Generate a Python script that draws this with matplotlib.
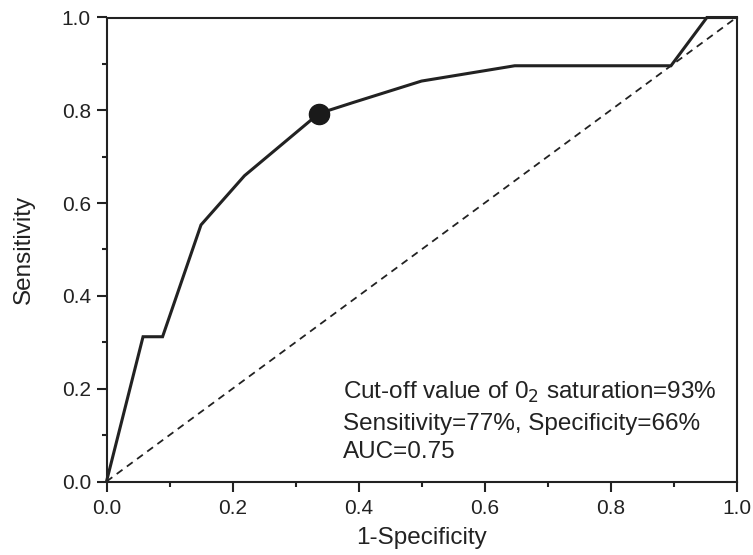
import matplotlib
matplotlib.use("Agg")
import matplotlib.pyplot as plt
from matplotlib.ticker import MultipleLocator

plt.rcParams['font.family'] = ['Liberation Sans', 'DejaVu Sans']

# ROC curve data
fpr = [0.0, 0.058, 0.089, 0.150, 0.219, 0.337, 0.392, 0.500, 0.648, 0.896, 0.953, 1.0]
tpr = [0.0, 0.312, 0.312, 0.553, 0.659, 0.793, 0.817, 0.863, 0.896, 0.896, 1.0, 1.0]
cutoff_point = (0.337, 0.793)
ref_x = [0.0, 1.0]
ref_y = [0.0, 1.0]

annot_lines = [
    r"Cut-off value of 0$_2$ saturation=93%",
    "Sensitivity=77%, Specificity=66%",
    "AUC=0.75",
]

fig = plt.figure(figsize=(7.53, 5.55), dpi=100)
ax = fig.add_axes([106.5/753, (555-481.5)/555, 630/753, 464/555])

ax.plot(ref_x, ref_y, color='#222222', lw=1.3, ls=(0, (4, 3)), zorder=2)
ax.plot(fpr, tpr, color='#222222', lw=2.2, solid_joinstyle='miter', zorder=3, clip_on=False)
ax.plot([cutoff_point[0]], [cutoff_point[1]], 'o', color='#1a1a1a', ms=14.5, zorder=4)

ax.set_xlim(0, 1)
ax.set_ylim(0, 1)
ax.xaxis.set_major_locator(MultipleLocator(0.2))
ax.xaxis.set_minor_locator(MultipleLocator(0.1))
ax.yaxis.set_major_locator(MultipleLocator(0.2))
ax.yaxis.set_minor_locator(MultipleLocator(0.1))
ax.xaxis.set_major_formatter(plt.FormatStrFormatter('%.1f'))
ax.yaxis.set_major_formatter(plt.FormatStrFormatter('%.1f'))

for sp in ax.spines.values():
    sp.set_linewidth(1.5)
    sp.set_color('#222222')

ax.tick_params(which='major', direction='out', length=7.2, width=1.5, labelsize=15,
               colors='#222222', top=False, right=False)
ax.tick_params(axis='x', which='major', pad=5.5)
ax.tick_params(axis='y', which='major', pad=4)
ax.tick_params(which='minor', direction='out', length=3.6, width=1.5,
               colors='#222222', top=False, right=False)

ax.set_xlabel('1-Specificity', fontsize=17.5, color='#222222')
ax.set_ylabel('Sensitivity', fontsize=17.5, color='#222222')
ax.xaxis.set_label_coords(0.5, -0.098)
ax.yaxis.set_label_coords(-0.113, 0.5)

ys = [0.179, 0.111, 0.050]
for t, y in zip(annot_lines, ys):
    ax.text(0.376, y, t, fontsize=17.5, color='#222222', va='baseline', ha='left')

fig.savefig('out.png', dpi=100)
